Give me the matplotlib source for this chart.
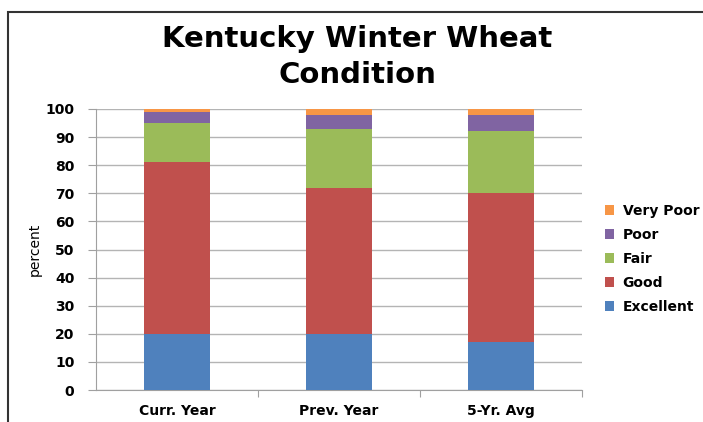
import numpy as np
import matplotlib
matplotlib.use('Agg')
import matplotlib.pyplot as plt
from matplotlib.patches import Rectangle

categories = ['Curr. Year', 'Prev. Year', '5-Yr. Avg']
excellent = [20, 20, 17]
good = [61, 52, 53]
fair = [14, 21, 22]
poor = [4, 5, 6]
very_poor = [1, 2, 2]

series = [('Excellent', excellent, '#4F81BD'),
          ('Good', good, '#C0504D'),
          ('Fair', fair, '#9BBB59'),
          ('Poor', poor, '#8064A2'),
          ('Very Poor', very_poor, '#F79646')]

W, H = 703, 422
fig = plt.figure(figsize=(W/100, H/100), dpi=100)
ax = fig.add_axes([96/W, 1 - 390/H, (582-96)/W, (390-109)/H])

x = np.arange(len(categories))
bottom = np.zeros(len(categories))
handles = []
for name, vals, col in series:
    b = ax.bar(x, vals, width=0.41, bottom=bottom, color=col, label=name, zorder=3)
    handles.append(b)
    bottom += np.array(vals)

ax.set_xlim(-0.5, 2.5)
ax.set_ylim(0, 100)
ax.set_yticks(range(0, 101, 10))
ax.set_yticklabels([str(v) for v in range(0, 101, 10)], fontsize=10, fontweight='bold')
ax.yaxis.grid(True, color='#b4b4b4', linewidth=1.0, zorder=0)
ax.set_axisbelow(True)

# category labels centred, tick marks on the boundaries
ax.set_xticks([0.5, 1.5, 2.5])
ax.set_xticklabels([])
ax.tick_params(axis='x', length=5, color='#a0a0a0', direction='out')
ax.tick_params(axis='y', length=6, color='#a0a0a0', direction='out', pad=9.5)
ax.set_xticks(x, minor=True)
ax.set_xticklabels(categories, minor=True, fontsize=10, fontweight='bold')
ax.tick_params(axis='x', which='minor', length=0, pad=10)

for s in ['top', 'right']:
    ax.spines[s].set_visible(False)
for s in ['left', 'bottom']:
    ax.spines[s].set_color('#a0a0a0')

ax.set_ylabel('percent', fontsize=10, labelpad=3)

fig.text(357/W, 1 - 57/H, 'Kentucky Winter Wheat\nCondition', ha='center', va='center',
         fontsize=21, fontweight='bold', linespacing=1.35)

fig.legend(handles[::-1], [s[0] for s in series][::-1], loc='center left',
           bbox_to_anchor=(592/W, 1 - 259/H), frameon=False,
           prop={'size': 10, 'weight': 'bold'}, handlelength=0.7, handleheight=0.7,
           handletextpad=0.6, labelspacing=0.72)

fig.patches.append(Rectangle((8/W, -0.1), 1.2, 1 - 12/H + 0.1, transform=fig.transFigure,
                             fill=False, edgecolor='#333333', linewidth=1.5))

fig.savefig('out.png', dpi=100)
